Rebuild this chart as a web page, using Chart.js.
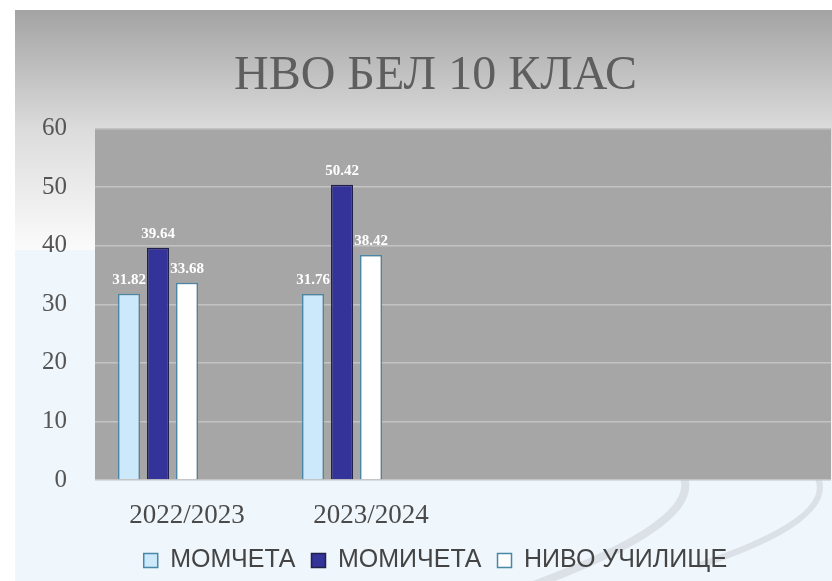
<!DOCTYPE html>
<html>
<head>
<meta charset="utf-8">
<script src="https://cdn.jsdelivr.net/npm/chart.js@4"></script>
<style>
  html, body { margin: 0; padding: 0; background: #fff; }
  #wrap { width: 832px; height: 581px; }
</style>
</head>
<body>
<div id="wrap"><canvas id="grafico"></canvas></div>
<script>
// данни
const categories = ['2022/2023', '2023/2024', '', ''];
const momcheta = [31.82, 31.76];
const momicheta = [39.64, 50.42];
const nivoUchilishte = [33.68, 38.42];
const yTicks = [0, 10, 20, 30, 40, 50, 60];

// фон на слайда
const slideBackground = {
    id: 'slideBackground',
    beforeDraw(chart) {
        const { ctx, width, height, chartArea } = chart;
        ctx.save();
        ctx.fillStyle = '#ffffff';
        ctx.fillRect(0, 0, width, height);
        const g = ctx.createLinearGradient(0, 10, 0, 250);
        g.addColorStop(0, '#a3a3a3');
        g.addColorStop(0.5, '#dcdcdc');
        g.addColorStop(1, '#fbfbfb');
        ctx.fillStyle = g;
        ctx.fillRect(15, 10, width - 15, 240);
        ctx.fillStyle = '#eff6fc';
        ctx.fillRect(15, 250, width - 15, height - 250);
        // сиви извивки долу вдясно
        ctx.strokeStyle = 'rgba(200,204,208,0.5)';
        ctx.lineCap = 'round';
        ctx.lineWidth = 8;
        ctx.beginPath();
        ctx.moveTo(684, 478);
        ctx.quadraticCurveTo(700, 525, 520, 590);
        ctx.stroke();
        ctx.lineWidth = 6;
        ctx.beginPath();
        ctx.moveTo(818, 478);
        ctx.quadraticCurveTo(835, 520, 700, 565);
        ctx.stroke();
        // зона на графиката
        ctx.fillStyle = '#a6a6a6';
        ctx.fillRect(chartArea.left, chartArea.top, chartArea.right - chartArea.left, chartArea.bottom - chartArea.top);
        ctx.restore();
    }
};

// стойности над стълбовете
const valueLabels = {
    id: 'valueLabels',
    afterDatasetsDraw(chart) {
        const { ctx } = chart;
        ctx.save();
        ctx.font = 'bold 15px "Liberation Serif", serif';
        ctx.fillStyle = '#ffffff';
        ctx.textAlign = 'center';
        ctx.textBaseline = 'middle';
        chart.data.datasets.forEach((ds, i) => {
            chart.getDatasetMeta(i).data.forEach((bar, j) => {
                const v = ds.data[j];
                if (v == null) return;
                ctx.fillText(v.toFixed(2), bar.x, bar.y - 14);
            });
        });
        ctx.restore();
    }
};

new Chart(document.getElementById('grafico'), {
    type: 'bar',
    data: {
        labels: categories,
        datasets: [{
            label: 'МОМЧЕТА',
            data: momcheta,
            backgroundColor: '#cce9fb',
            borderColor: '#4a86a6',
            borderWidth: 1.5
        }, {
            label: 'МОМИЧЕТА',
            data: momicheta,
            backgroundColor: '#333399',
            borderColor: '#20204a',
            borderWidth: 1.5
        }, {
            label: 'НИВО УЧИЛИЩЕ',
            data: nivoUchilishte,
            backgroundColor: '#ffffff',
            borderColor: '#4a86a6',
            borderWidth: 1.5
        },
        // празни серии, пазят мястото като в оригинала
        { label: '', data: [] },
        { label: '', data: [] }]
    },
    options: {
        responsive: true,
        maintainAspectRatio: false,
        animation: false,
        categoryPercentage: 0.788,
        barPercentage: 0.76,
        layout: { padding: { top: 10, left: 40, right: 1, bottom: 0 } },
        plugins: {
            title: {
                display: true,
                text: 'НВО БЕЛ 10 КЛАС',
                color: '#5e5e5e',
                font: { family: '"Liberation Serif", serif', size: 48, weight: 'normal', lineHeight: 1.2 },
                padding: { top: 38, bottom: 23 }
            },
            legend: {
                position: 'bottom',
                maxHeight: 49,
                labels: {
                    filter: item => item.text !== '',
                    color: '#444444',
                    font: { family: '"Liberation Sans", Arial, sans-serif', size: 25 },
                    boxWidth: 14,
                    boxHeight: 14,
                    padding: 16
                }
            },
            tooltip: { enabled: false }
        },
        scales: {
            y: {
                min: 0,
                max: 60,
                afterBuildTicks: s => { s.ticks = yTicks.map(v => ({ value: v })); },
                afterFit: s => { s.width = 55; },
                grid: { color: '#c3c3c3', lineWidth: 1.5, drawTicks: false },
                border: { display: false },
                ticks: {
                    color: '#555555',
                    padding: 28,
                    font: { family: '"Liberation Serif", serif', size: 25 }
                }
            },
            x: {
                afterFit: s => { s.height = 52; },
                grid: { display: false, drawTicks: false },
                border: { display: false },
                ticks: {
                    color: '#4a4a4a',
                    padding: 20,
                    font: { family: '"Liberation Serif", serif', size: 27 }
                }
            }
        }
    },
    plugins: [slideBackground, valueLabels]
});
</script>
</body>
</html>
